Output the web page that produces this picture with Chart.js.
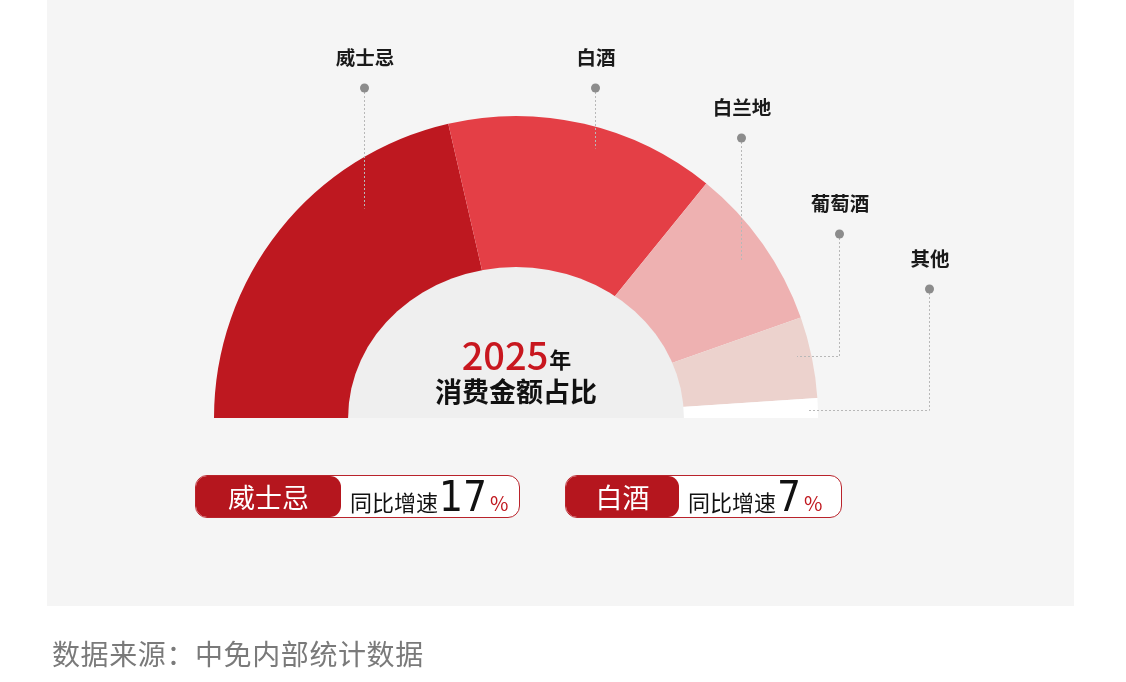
<!DOCTYPE html>
<html lang="zh">
<head>
<meta charset="UTF-8" />
<title>2025年消费金额占比</title>
<script src="https://cdn.jsdelivr.net/npm/chart.js"></script>
<style>
  body {
    margin: 0;
    width: 1126px;
    height: 682px;
    background: #ffffff;
    font-family: 'Noto Sans CJK SC', 'Noto Sans', sans-serif;
    position: relative;
    overflow: hidden;
  }
  .panel {
    position: absolute;
    left: 47px; top: 0;
    width: 1027px; height: 606px;
    background: #f5f5f5;
  }
  #shareChart {
    position: absolute;
    left: 0; top: 0;
  }
  .badge {
    position: absolute;
    top: 475px;
    height: 43px;
    box-sizing: border-box;
    border: 1px solid #b9232b;
    border-radius: 12px;
    background: #ffffff;
    display: flex;
    align-items: center;
    overflow: hidden;
  }
  .badge .name {
    height: 100%;
    background: #b5161e;
    color: #fff;
    font-size: 27px;
    display: flex;
    align-items: center;
    justify-content: center;
    border-radius: 11px;
  }
  .badge .txt {
    font-size: 22px;
    color: #111;
    margin-left: 9px;
    display: flex;
    align-items: baseline;
  }
  .badge .num {
    font-family: 'Liberation Sans Narrow', 'DejaVu Sans Condensed', sans-serif;
    font-size: 42px;
    line-height: 1;
    margin-left: 1px;
  }
  .badge .pct {
    font-size: 20px;
    color: #c0181f;
    margin-left: 3px;
  }
  .source {
    position: absolute;
    left: 52px; top: 633px;
    font-size: 28px;
    color: #7a7a7a;
    letter-spacing: 0.6px;
  }
</style>
</head>
<body>
  <div class="panel"></div>
  <canvas id="shareChart" width="1126" height="682"></canvas>
  <div id="badges"></div>
  <div class="source">数据来源：中免内部统计数据</div>

<script>
// 2025年消费金额占比 (%)
const categories = ['威士忌', '白酒', '白兰地', '葡萄酒', '其他'];
const shares = [42.8, 28.9, 17.5, 8.7, 2.1];

// 同比增速 (%)
const growthNames = ['威士忌', '白酒'];
const growthRates = [17, 7];

const sliceColors = ['#be1820', '#e43f46', '#eeb1b1', '#ecd2cd', '#ffffff'];

// label / leader positions (page pixels)
const leaderLayout = [
  { x: 364, labelY: 58, dotY: 88, endY: 208 },
  { x: 595, labelY: 58, dotY: 88, endY: 148 },
  { x: 741, labelY: 108, dotY: 138, endY: 260 },
  { x: 839, labelY: 204, dotY: 234, endY: 356, endX: 797 },
  { x: 929, labelY: 259, dotY: 289, endY: 410, endX: 808 }
];

const ringDecor = {
  id: 'ringDecor',
  afterDatasetsDraw(chart) {
    const arc = chart.getDatasetMeta(0).data[0];
    if (!arc) return;
    const { x, y, outerRadius } = arc.getProps(['x', 'y', 'outerRadius'], true);
    const ctx = chart.ctx;
    ctx.save();

    // inner grey dome (slightly flattened)
    ctx.fillStyle = '#efefef';
    ctx.beginPath();
    ctx.ellipse(x, y, outerRadius * 0.556, outerRadius * 0.5, 0, Math.PI, 2 * Math.PI);
    ctx.closePath();
    ctx.fill();

    // leader lines
    ctx.strokeStyle = '#b8b8b8';
    ctx.lineWidth = 1;
    ctx.setLineDash([2, 2]);
    leaderLayout.forEach(l => {
      ctx.beginPath();
      ctx.moveTo(l.x + 0.5, l.dotY);
      ctx.lineTo(l.x + 0.5, l.endY + 0.5);
      if (l.endX !== undefined) ctx.lineTo(l.endX, l.endY + 0.5);
      ctx.stroke();
    });
    ctx.setLineDash([]);

    // dots and labels
    ctx.textAlign = 'center';
    ctx.textBaseline = 'middle';
    leaderLayout.forEach((l, i) => {
      ctx.fillStyle = '#8c8c8c';
      ctx.beginPath();
      ctx.arc(l.x + 0.5, l.dotY, 4.5, 0, 2 * Math.PI);
      ctx.fill();
      ctx.fillStyle = '#1a1a1a';
      ctx.font = 'bold 19.5px "Noto Sans CJK SC"';
      ctx.fillText(categories[i], l.x + 1, l.labelY);
    });

    // center title
    ctx.font = '500 38px "Noto Sans CJK SC"';
    const yearW = ctx.measureText('2025').width;
    ctx.font = 'bold 22px "Noto Sans CJK SC"';
    const nianW = ctx.measureText('年').width;
    const startX = x - (yearW + nianW) / 2;
    ctx.textAlign = 'left';
    ctx.textBaseline = 'alphabetic';
    ctx.fillStyle = '#c8171f';
    ctx.font = '500 38px "Noto Sans CJK SC"';
    ctx.fillText('2025', startX, y - 48);
    ctx.fillStyle = '#111';
    ctx.font = 'bold 22px "Noto Sans CJK SC"';
    ctx.fillText('年', startX + yearW + 1, y - 50);
    ctx.textAlign = 'center';
    ctx.textBaseline = 'middle';
    ctx.font = 'bold 27px "Noto Sans CJK SC"';
    ctx.fillText('消费金额占比', x, y - 26);
    ctx.restore();
  }
};

new Chart(document.getElementById('shareChart').getContext('2d'), {
  type: 'doughnut',
  data: {
    labels: categories,
    datasets: [{
      data: shares,
      backgroundColor: sliceColors,
      borderWidth: 0,
      hoverOffset: 0
    }]
  },
  options: {
    responsive: false,
    animation: false,
    rotation: -90,
    circumference: 180,
    cutout: '45%',
    layout: { padding: { left: 214, right: 308, top: 116, bottom: 264 } },
    plugins: {
      legend: { display: false },
      tooltip: { enabled: false }
    }
  },
  plugins: [ringDecor]
});

// growth badges
const badgeLayout = [
  { left: 195, width: 325, nameW: 145 },
  { left: 565, width: 277, nameW: 113 }
];
const badgeBox = document.getElementById('badges');
growthNames.forEach((name, i) => {
  const b = badgeLayout[i];
  const div = document.createElement('div');
  div.className = 'badge';
  div.style.left = b.left + 'px';
  div.style.width = b.width + 'px';
  div.innerHTML =
    `<div class="name" style="width:${b.nameW}px">${name}</div>` +
    `<div class="txt">同比增速<span class="num">${growthRates[i]}</span><span class="pct">%</span></div>`;
  badgeBox.appendChild(div);
});
</script>
</body>
</html>
